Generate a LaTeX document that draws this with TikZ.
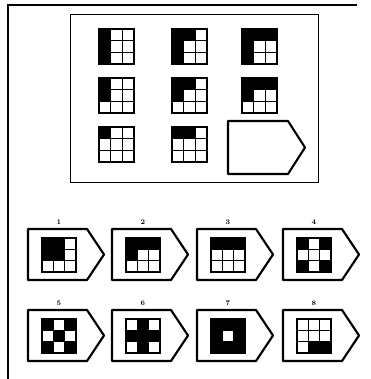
\documentclass[tikz,border=0pt]{standalone}
\usepackage{tikz}
\tikzset{
  gridline/.style={line width=2pt,line join=miter},
  innerline/.style={line width=1.4pt},
  pent/.style={line width=2.1pt,line join=round},
  frame/.style={line width=1pt},
  lbl/.style={font=\bfseries\fontsize{7}{7}\selectfont,inner sep=0pt}
}
\newcommand\mgrid[4]{%
  \foreach \r/\c in {#4}{\fill (#1+\c*#3/3,#2+\r*#3/3) rectangle ++(#3/3,#3/3);}
  \draw[innerline] (#1+#3/3,#2) -- ++(0,#3) (#1+2*#3/3,#2) -- ++(0,#3)
                   (#1,#2+#3/3) -- ++(#3,0) (#1,#2+2*#3/3) -- ++(#3,0);
  \draw[gridline] (#1,#2) rectangle ++(#3,#3);
}
\newcommand\penta[5]{% left top width height slant
  \draw[pent] (#1,#2) -- ++(#3-#5,0) -- ++(#5,#4/2) -- ++(-#5,#4/2) -- ++(#5-#3,0) -- cycle;
}
\newcommand\option[5]{% left top label name cells
  \penta{#1}{#2}{76}{51}{17}
  \node[lbl] (#4) at (#1+31,#2-7) {#3};
  \mgrid{#1+14}{#2+9}{34}{#5}
}
\begin{document}
\begin{tikzpicture}[x=1pt,y=-1pt]
\useasboundingbox (0,0) rectangle (370,379);
% outer border
\draw[line width=1.2pt] (8,379) -- (8,5) -- (357,5);
% matrix frame
\draw[frame] (70,15) rectangle (318,182);
% matrix
\mgrid{99}{29}{35}{0/0,1/0,2/0}
\mgrid{172}{29}{35}{0/0,1/0,2/0,0/1}
\mgrid{242}{29}{35}{0/0,1/0,2/0,0/1,0/2}
\mgrid{99}{78}{35}{0/0,1/0}
\mgrid{172}{78}{35}{0/0,1/0,0/1}
\mgrid{242}{78}{35}{0/0,1/0,0/1,0/2}
\mgrid{99}{127}{35}{0/0}
\mgrid{172}{127}{35}{0/0,0/1}
\penta{228}{121}{77}{53}{17}
% options
\option{28}{229}{1}{o1}{0/0,0/1,1/0,1/1}
\option{112}{229}{2}{o2}{0/0,0/1,0/2,1/0}
\option{197}{229}{3}{o3}{0/0,0/1,0/2}
\option{283}{229}{4}{o4}{0/0,0/2,2/0,2/2}
\option{28}{310}{5}{o5}{0/0,0/2,1/1,2/0,2/2}
\option{112}{310}{6}{o6}{0/1,1/0,1/1,1/2,2/1}
\option{197}{310}{7}{o7}{0/0,0/1,0/2,1/0,1/2,2/0,2/1,2/2}
\option{283}{310}{8}{o8}{2/1,2/2}
\end{tikzpicture}
\end{document}
